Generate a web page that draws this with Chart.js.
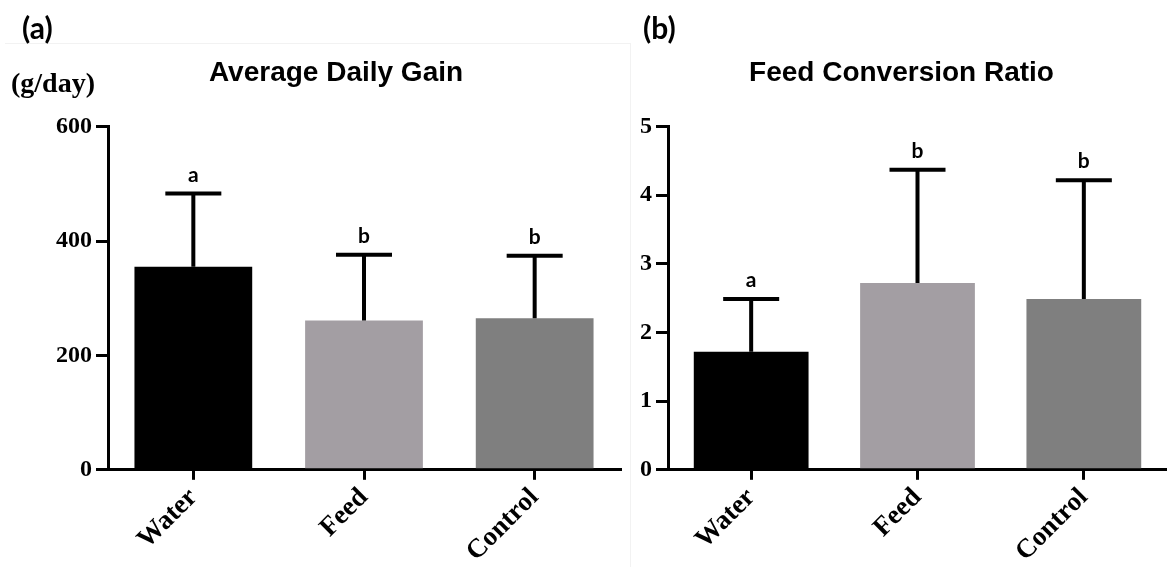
<!DOCTYPE html>
<html>
<head>
<meta charset="utf-8">
<script src="https://cdn.jsdelivr.net/npm/chart.js@4.4.1/dist/chart.umd.min.js"></script>
<style>
  body { margin: 0; background: #fff; width: 1167px; height: 567px; overflow: hidden; position: relative; }
  .panel { position: absolute; top: 0; height: 582px; }
  .lbl { position: absolute; font-family: Lato, sans-serif; font-weight: bold; font-size: 30px; color: #000; }
  .unit { position: absolute; font-family: "Liberation Serif", serif; font-weight: bold; font-size: 28px; color: #000; }
  .frame { position: absolute; left: 5px; top: 43px; width: 625px; height: 530px; border-top: 1px solid #f2f2f2; border-right: 1px solid #f2f2f2; }
</style>
</head>
<body>
<div class="frame"></div>
<div class="panel" style="left:0; width:630px;"><canvas id="adgChart"></canvas></div>
<div class="panel" style="left:620px; width:547px;"><canvas id="fcrChart"></canvas></div>
<div class="lbl" style="left:22px; top:9px;">(a)</div>
<div class="lbl" style="left:643px; top:9px;">(b)</div>
<div class="unit" style="left:11px; top:67px;">(g/day)</div>
<script>
const groups = ["Water", "Feed", "Control"]
const barColors = ["#000000", "#a39ea3", "#7f7f7f"]

// average daily gain, g/day
const adgMean = [355, 261, 265]
const adgSd = [128, 115, 109]
const adgLetters = ["a", "b", "b"]

// feed conversion ratio
const fcrMean = [1.72, 2.72, 2.49]
const fcrSd = [0.77, 1.65, 1.73]
const fcrLetters = ["a", "b", "b"]

// upper error bar + significance letter
const errorBars = {
  id: "errorBars",
  afterDatasetsDraw(chart, args, opts) {
    const ctx = chart.ctx
    const meta = chart.getDatasetMeta(0)
    const y = chart.scales.y
    ctx.save()
    ctx.strokeStyle = "#000"
    ctx.lineWidth = 4
    meta.data.forEach(function(bar, i) {
      const top = y.getPixelForValue(opts.mean[i] + opts.sd[i])
      const base = y.getPixelForValue(opts.mean[i])
      ctx.beginPath()
      ctx.moveTo(bar.x, base)
      ctx.lineTo(bar.x, top)
      ctx.moveTo(bar.x - 28, top)
      ctx.lineTo(bar.x + 28, top)
      ctx.stroke()
      ctx.fillStyle = "#000"
      ctx.font = "bold 21px Lato"
      ctx.textAlign = "center"
      ctx.textBaseline = "bottom"
      ctx.fillText(opts.letters[i], bar.x, top - 8)
    })
    ctx.restore()
  }
}

function makeChart(id, title, mean, sd, letters, yMax, yStep, padLeft, padRight) {
  return new Chart(id, {
    type: "bar",
    data: {
      labels: groups,
      datasets: [{
        data: mean,
        backgroundColor: barColors,
        categoryPercentage: 1,
        barPercentage: 0.69
      }]
    },
    plugins: [errorBars],
    options: {
      responsive: true,
      maintainAspectRatio: false,
      animation: false,
      layout: { padding: { left: padLeft, right: padRight, bottom: 12, top: 0 } },
      plugins: {
        legend: { display: false },
        tooltip: { enabled: false },
        title: {
          display: true,
          text: title,
          color: "#000",
          font: { family: "Liberation Sans", size: 28, weight: "bold" },
          padding: { top: 56, bottom: 37 }
        },
        errorBars: { mean: mean, sd: sd, letters: letters }
      },
      scales: {
        x: {
          border: { color: "#000", width: 3 },
          grid: { display: true, drawOnChartArea: false, offset: false, color: "#000", lineWidth: 3, tickLength: 10 },
          ticks: {
            color: "#000",
            minRotation: 45,
            maxRotation: 45,
            padding: 2,
            font: { family: "Liberation Serif", size: 27, weight: "bold" }
          }
        },
        y: {
          min: 0,
          max: yMax,
          border: { color: "#000", width: 3 },
          grid: { display: true, drawOnChartArea: false, color: "#000", lineWidth: 3, tickLength: 12 },
          ticks: {
            stepSize: yStep,
            color: "#000",
            padding: 4,
            font: { family: "Liberation Serif", size: 24, weight: "bold" }
          }
        }
      }
    }
  })
}

makeChart("adgChart", "Average Daily Gain", adgMean, adgSd, adgLetters, 600, 200, 52, 10)
makeChart("fcrChart", "Feed Conversion Ratio", fcrMean, fcrSd, fcrLetters, 5, 1, 16, 0)
</script>
</body>
</html>
